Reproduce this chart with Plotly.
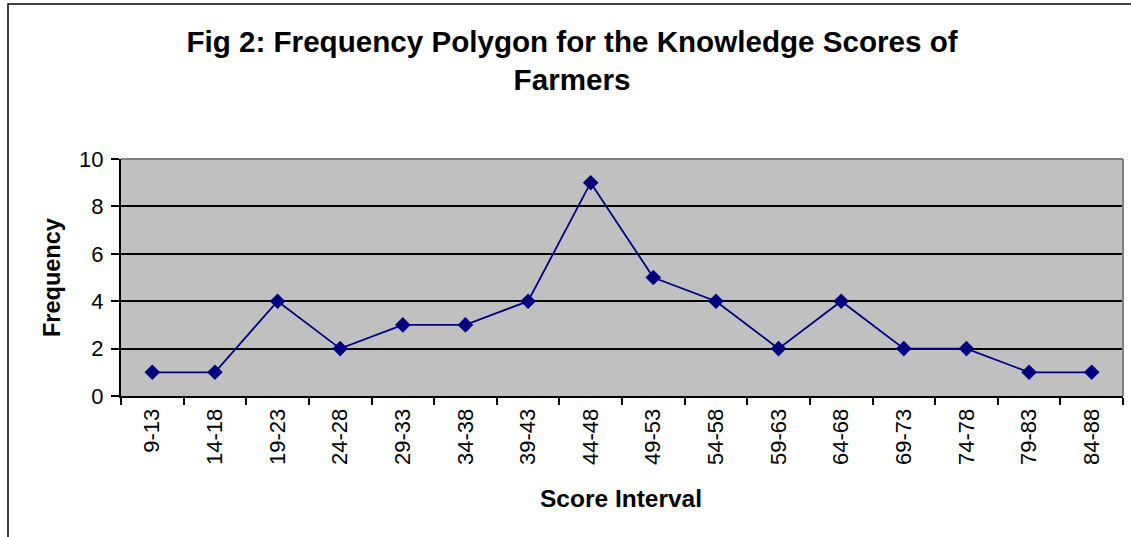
import plotly.graph_objects as go

categories = ["9-13", "14-18", "19-23", "24-28", "29-33", "34-38", "39-43", "44-48",
              "49-53", "54-58", "59-63", "64-68", "69-73", "74-78", "79-83", "84-88"]
frequency = [1, 1, 4, 2, 3, 3, 4, 9, 5, 4, 2, 4, 2, 2, 1, 1]
y_ticks = [0, 2, 4, 6, 8, 10]

W, H = 1131, 537
L, R, T, B = 121, 8, 159, 141
pw, ph = W - L - R, H - T - B

def px_x(px):
    return (px - L) / pw

def px_y(py):
    return (H - B - py) / ph

FONT = "Liberation Sans, Arial, sans-serif"
NAVY = "#000080"

fig = go.Figure()
fig.add_trace(go.Scatter(
    x=categories, y=frequency, mode="lines+markers",
    line=dict(color=NAVY, width=1.8),
    marker=dict(symbol="diamond", size=12, color=NAVY),
    showlegend=False, cliponaxis=False,
))

fig.update_layout(
    width=W, height=H,
    margin=dict(l=L, r=R, t=T, b=B, autoexpand=False),
    paper_bgcolor="white", plot_bgcolor="#C0C0C0",
    font=dict(family=FONT, color="black"),
    title=dict(
        text="<b>Fig 2: Frequency Polygon for the Knowledge Scores of<br>Farmers</b>",
        x=572 / W, xanchor="center", xref="container",
        y=1 - 52 / H, yanchor="top", yref="container",
        font=dict(size=29.6, family=FONT, color="black"),
    ),
    xaxis=dict(
        type="category", range=[-0.5, len(categories) - 0.5],
        tickson="boundaries", ticks="outside", ticklen=7, tickwidth=2,
        tickcolor="black", tickangle=-90, tickfont=dict(size=22),
        ticklabelstandoff=2,
        showgrid=False, showline=True, linecolor="black", linewidth=2,
        zeroline=False, fixedrange=True, automargin=False,
    ),
    yaxis=dict(
        range=[0, 10], tickvals=y_ticks, ticks="outside", ticklen=8,
        tickwidth=2, tickcolor="black", tickfont=dict(size=22),
        ticklabelstandoff=3,
        showgrid=True, gridcolor="black", gridwidth=1.6,
        showline=True, linecolor="black", linewidth=2,
        zeroline=False, fixedrange=True, automargin=False,
    ),
    shapes=[
        dict(type="line", xref="paper", yref="paper", x0=0, x1=1, y0=1, y1=1,
             line=dict(color="#808080", width=2), layer="above"),
        dict(type="line", xref="paper", yref="paper", x0=1, x1=1, y0=0, y1=1,
             line=dict(color="#808080", width=2), layer="above"),
        dict(type="rect", xref="paper", yref="paper",
             x0=px_x(8), x1=px_x(1145), y0=px_y(4), y1=px_y(560),
             line=dict(color="black", width=1.5), fillcolor="rgba(0,0,0,0)",
             layer="above"),
    ],
    annotations=[
        dict(text="<b>Frequency</b>", xref="paper", yref="paper",
             x=px_x(52), y=px_y(278), xanchor="center", yanchor="middle",
             textangle=-90, showarrow=False, font=dict(size=23.5, family=FONT)),
        dict(text="<b>Score Interval</b>", xref="paper", yref="paper",
             x=px_x(621), y=px_y(498), xanchor="center", yanchor="middle",
             showarrow=False, font=dict(size=24.5, family=FONT)),
    ],
)

fig.write_html("out.html", config={"displayModeBar": False},
               post_script="document.body.style.margin='0';")
